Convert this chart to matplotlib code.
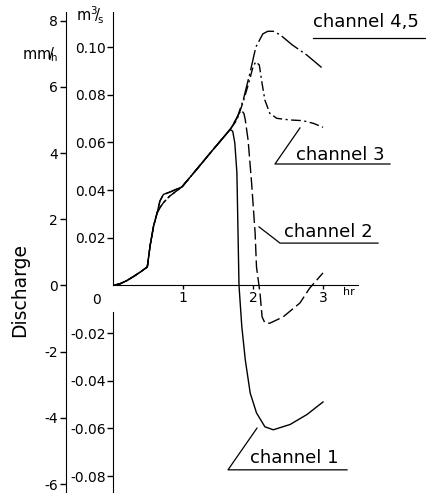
import matplotlib
matplotlib.use('Agg')
import matplotlib.pyplot as plt

# discharge in mm/h, time in hr
rise_t = [0, 0.1, 0.2, 0.3, 0.4, 0.49, 0.53, 0.58, 0.63]
rise_v = [0, 0.05, 0.15, 0.28, 0.42, 0.56, 1.2, 1.8, 2.19]
mid_t = [0.67, 0.72, 0.81, 0.986, 1.2, 1.4, 1.6]
mid_v_a = [2.55, 2.75, 2.82, 2.98, 3.52, 4.03, 4.53]   # channel 1, 2
mid_v_b = [2.35, 2.5, 2.7, 2.98, 3.52, 4.03, 4.53]     # channel 3, 4/5

ch1_t = [1.67, 1.71, 1.74, 1.77, 1.80, 1.84, 1.89, 1.96, 2.05, 2.17, 2.29, 2.53, 2.77, 3.0]
ch1_v = [4.72, 4.66, 4.31, 3.4, 0.0, -1.24, -2.25, -3.25, -3.85, -4.27, -4.36, -4.2, -3.9, -3.52]
ch2_t = [1.67, 1.75, 1.83, 1.87, 1.89, 1.93, 1.98, 2.03, 2.05, 2.1, 2.13, 2.17, 2.24, 2.43, 2.67, 2.81, 3.0]
ch2_v = [4.7, 5.0, 5.3, 5.2, 5.0, 4.39, 3.1, 1.59, 0.56, -0.23, -0.95, -1.13, -1.14, -0.95, -0.53, -0.08, 0.38]
ch3_t = [1.67, 1.77, 1.86, 1.93, 2.0, 2.04, 2.09, 2.13, 2.17, 2.24, 2.34, 2.53, 2.71, 2.86, 3.0]
ch3_v = [4.7, 5.0, 5.55, 6.05, 6.6, 6.76, 6.66, 6.1, 5.6, 5.2, 5.05, 5.0, 4.98, 4.9, 4.78]
ch4_t = [1.67, 1.77, 1.86, 1.96, 2.04, 2.14, 2.21, 2.29, 2.39, 2.56, 2.77, 3.0]
ch4_v = [4.7, 5.05, 5.6, 6.45, 7.2, 7.6, 7.68, 7.68, 7.57, 7.27, 6.96, 6.55]

mmh_ticks = [-6, -4, -2, 0, 2, 4, 6, 8]
cms_ticks = [-0.08, -0.06, -0.04, -0.02, 0.02, 0.04, 0.06, 0.08, 0.10]
cms_labels = ['-0.08', '-0.06', '-0.04', '-0.02', '0.02', '0.04', '0.06', '0.08', '0.10']
hr_ticks = [1, 2, 3]
factor = 72.0  # mm/h per m3/s

fig = plt.figure(figsize=(4.27, 4.93), dpi=100)
ax = fig.add_axes([113 / 427, 0, 245 / 427, 1])
ax.set_xlim(0, 3.5)
ax.set_ylim(-6.27, 8.625)

lw = 1.0
ax.plot(rise_t + mid_t + ch1_t, rise_v + mid_v_a + ch1_v, color='k', lw=lw)
ax.plot(rise_t + mid_t + ch2_t, rise_v + mid_v_a + ch2_v, color='k', lw=lw,
        linestyle=(0, (9, 3)))
ax.plot(rise_t + mid_t + ch3_t, rise_v + mid_v_b + ch3_v, color='k', lw=lw,
        linestyle=(0, (7, 2.5, 1.5, 2.5)))
ax.plot(rise_t + mid_t + ch4_t, rise_v + mid_v_b + ch4_v, color='k', lw=lw,
        linestyle=(0, (15, 2.5, 1.5, 2.5)))

# axes
for s in ['top', 'right']:
    ax.spines[s].set_visible(False)
ax.spines['bottom'].set_position(('data', 0))
ax.spines['bottom'].set_bounds(0, 3.5)
ax.spines['left'].set_position(('axes', -47 / 245))
ax.spines['left'].set_bounds(-6.27, 8.26)
ax.set_yticks(mmh_ticks)
ax.set_yticklabels([str(t) if t >= 0 else '-' + str(-t) for t in mmh_ticks])
ax.set_xticks(hr_ticks)
ax.set_xticklabels([str(t) for t in hr_ticks])
ax.tick_params(axis='y', direction='out', length=4, width=1, labelsize=10, pad=2)
ax.tick_params(axis='x', direction='out', length=3, width=1, labelsize=10, pad=1)

sec = ax.secondary_yaxis(0, functions=(lambda v: v / factor, lambda q: q * factor))
sec.spines['left'].set_bounds(0, 8.26 / factor)
sec.set_yticks(cms_ticks)
sec.set_yticklabels(cms_labels)
sec.tick_params(direction='out', length=4, width=1, labelsize=10, pad=1)
ax.plot([0, 0], [-0.8, -6.27], color='k', lw=0.8, clip_on=False)

ax.text(-0.23, -0.45, '0', fontsize=10, ha='center', va='center')
ax.text(3.29, -0.2, 'hr', fontsize=8, ha='left', va='center')

# channel labels
tk = dict(fontsize=13, ha='left', va='center', clip_on=False)
lk = dict(color='k', lw=0.9, clip_on=False)
ax.text(2.86, 7.96, 'channel 4,5', **tk)
ax.plot([2.857, 4.457], [7.48, 7.48], **lk)
ax.text(2.614, 3.94, 'channel 3', **tk)
ax.plot([2.671, 2.314, 3.957], [4.76, 3.67, 3.67], **lk)
ax.text(2.443, 1.62, 'channel 2', **tk)
ax.plot([2.086, 2.386, 3.786], [1.77, 1.28, 1.28], **lk)
ax.text(1.957, -5.21, 'channel 1', **tk)
ax.plot([2.057, 1.643, 3.343], [-4.31, -5.57, -5.57], **lk)

fig.text(20 / 427, 1 - 290 / 493, 'Discharge', rotation=90, fontsize=13.5,
         ha='center', va='center')
fig.text(40 / 427, 1 - 55 / 493, r'mm$\!/\!_{\mathrm{h}}$', fontsize=10.5,
         ha='center', va='center')
fig.text(90 / 427, 1 - 15 / 493, r'm$^3\!/\!_{\mathrm{s}}$', fontsize=10.5,
         ha='center', va='center')

fig.savefig('out.png', dpi=100)
